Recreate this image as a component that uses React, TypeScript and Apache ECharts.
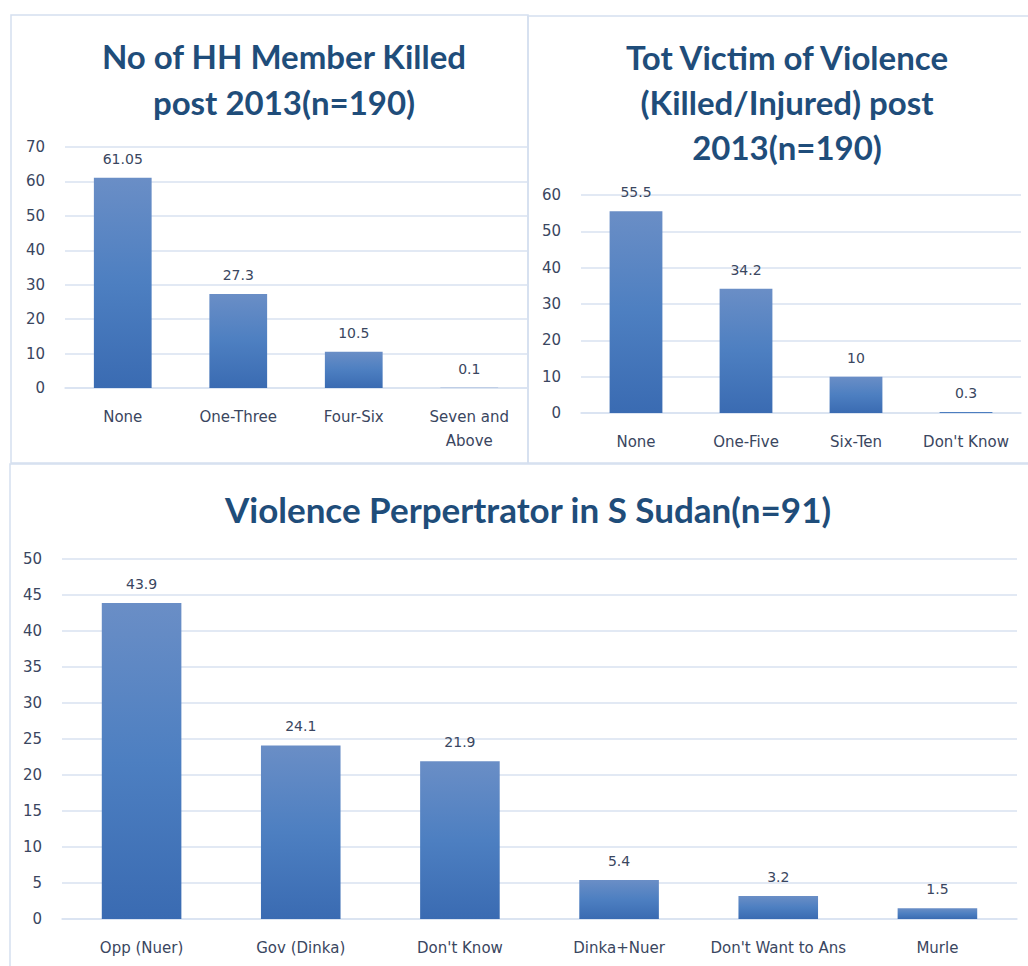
import React, { useEffect, useRef } from "react";
import * as echarts from "echarts";

const cat1 = ["None", "One-Three", "Four-Six", "Seven and\nAbove"];
const val1 = [61.05, 27.3, 10.5, 0.1];
const cat2 = ["None", "One-Five", "Six-Ten", "Don't Know"];
const val2 = [55.5, 34.2, 10, 0.3];
const cat3 = ["Opp (Nuer)", "Gov (Dinka)", "Don't Know", "Dinka+Nuer", "Don't Want to Ans", "Murle"];
const val3 = [43.9, 24.1, 21.9, 5.4, 3.2, 1.5];

const title1 = "No of HH Member Killed\npost 2013(n=190)";
const title2 = "Tot Victim of Violence\n(Killed/Injured) post\n2013(n=190)";
const title3 = "Violence Perpertrator in S Sudan(n=91)";

const TXT = "#3a4660";
const GRID = "#d9e2f1";
const BORDER = "#d5e0f0";
const TITLE = "#1f4d7a";
const FONT = "DejaVu Sans";

const barColor = () =>
  new echarts.graphic.LinearGradient(0, 0, 0, 1, [
    { offset: 0, color: "#6a8ec6" },
    { offset: 0.5, color: "#4d7fc1" },
    { offset: 1, color: "#3a6bb2" },
  ]);

export default function App() {
  const ref = useRef<HTMLDivElement>(null);
  useEffect(() => {
    if (!ref.current) return;
    const chart = echarts.init(ref.current, null, { renderer: "svg" });
    const xAxisBase = (idx: number, data: string[]) => ({
      type: "category" as const,
      gridIndex: idx,
      data,
      axisLine: { show: true, lineStyle: { color: GRID, width: 1.5 } },
      axisTick: { show: false },
      axisLabel: {
        color: TXT,
        fontFamily: FONT,
        fontSize: 15,
        margin: 17,
        lineHeight: 24,
        interval: 0,
      },
    });
    const yAxisBase = (idx: number, max: number, interval: number) => ({
      type: "value" as const,
      gridIndex: idx,
      min: 0,
      max,
      interval,
      axisLine: { show: false },
      axisTick: { show: false },
      splitLine: { lineStyle: { color: GRID, width: 1.5 } },
      axisLabel: { color: TXT, fontFamily: FONT, fontSize: 15, margin: 20 },
    });
    const series = (idx: number, data: number[], width: string) => ({
      type: "bar" as const,
      xAxisIndex: idx,
      yAxisIndex: idx,
      data,
      barWidth: width,
      itemStyle: { color: barColor() },
      label: {
        show: true,
        position: "top" as const,
        distance: 12,
        color: TXT,
        fontFamily: FONT,
        fontSize: 14,
      },
    });
    chart.setOption({
      animation: false,
      backgroundColor: "#ffffff",
      grid: [
        { left: 65, top: 147, width: 462, height: 241 },
        { left: 581, top: 195, width: 440, height: 218 },
        { left: 62, top: 559, width: 955, height: 360 },
      ],
      xAxis: [xAxisBase(0, cat1), xAxisBase(1, cat2), xAxisBase(2, cat3)],
      yAxis: [yAxisBase(0, 70, 10), yAxisBase(1, 60, 10), yAxisBase(2, 50, 5)],
      series: [series(0, val1, "50%"), series(1, val2, "48%"), series(2, val3, "50%")],
      graphic: [
        {
          type: "rect",
          z: -1,
          shape: { x: 11, y: 15, width: 517, height: 448 },
          style: { fill: "none", stroke: BORDER, lineWidth: 1.5 },
        },
        {
          type: "rect",
          z: -1,
          shape: { x: 528, y: 16, width: 510, height: 447 },
          style: { fill: "none", stroke: BORDER, lineWidth: 1.5 },
        },
        {
          type: "rect",
          z: -1,
          shape: { x: 10, y: 464, width: 1030, height: 520 },
          style: { fill: "none", stroke: BORDER, lineWidth: 1.5 },
        },
        {
          type: "text",
          x: 284,
          y: 79,
          style: {
            text: title1,
            align: "center",
            verticalAlign: "middle",
            font: "bold 33px Lato",
            lineHeight: 46,
            fill: TITLE,
          },
        },
        {
          type: "text",
          x: 787,
          y: 102,
          style: {
            text: title2,
            align: "center",
            verticalAlign: "middle",
            font: "bold 33px Lato",
            lineHeight: 45,
            fill: TITLE,
          },
        },
        {
          type: "text",
          x: 528,
          y: 509,
          style: {
            text: title3,
            align: "center",
            verticalAlign: "middle",
            font: "bold 35px Lato",
            fill: TITLE,
          },
        },
      ],
    });
    return () => chart.dispose();
  }, []);
  return (
    <div
      ref={ref}
      style={{ position: "absolute", left: 0, top: 0, width: 1028, height: 966 }}
    />
  );
}
